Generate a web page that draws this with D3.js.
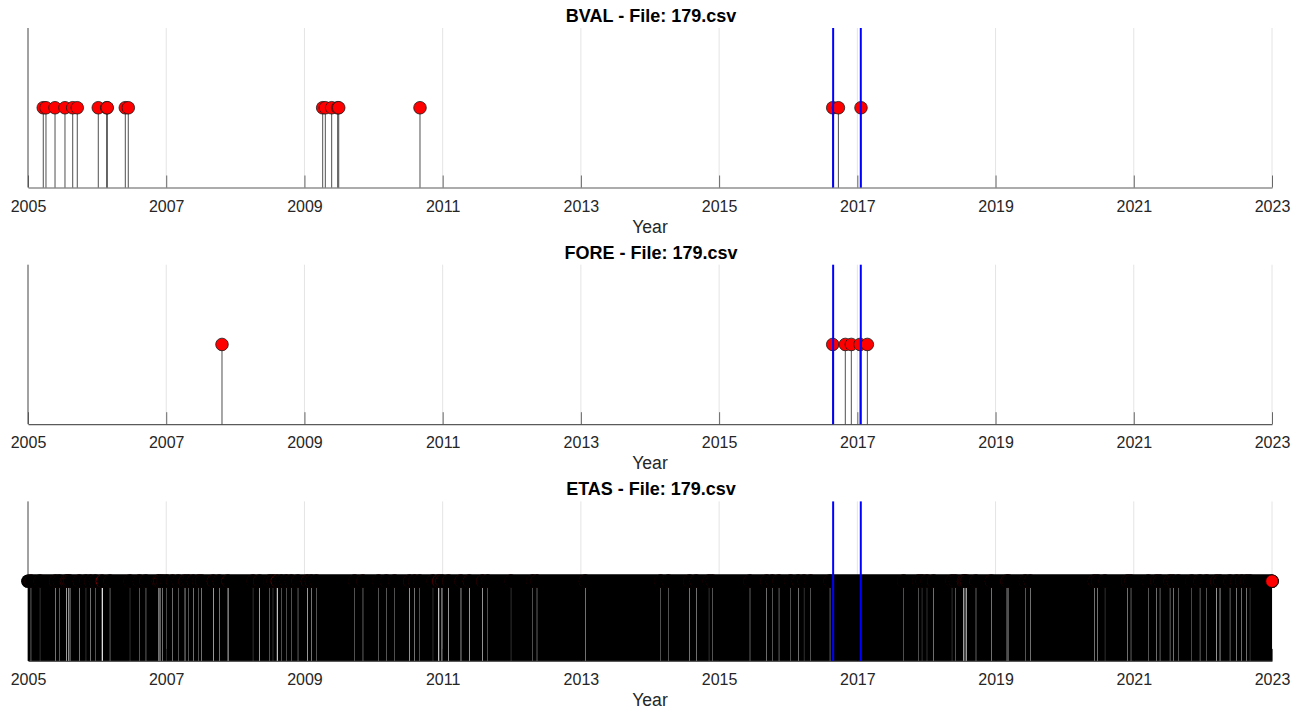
<!DOCTYPE html>
<html>
<head>
<meta charset="utf-8">
<script src="https://cdn.jsdelivr.net/npm/d3@7"></script>
<style>
  html, body { margin: 0; padding: 0; background: #fff; }
  svg { display: block; font-family: "Liberation Sans", Arial, Helvetica, sans-serif; }
</style>
</head>
<body>
<svg id="chart" width="1298" height="710"></svg>
<script>
// ---- data -------------------------------------------------------------
const yearTicks = [2005, 2007, 2009, 2011, 2013, 2015, 2017, 2019, 2021, 2023];
const fileName = "179.csv";

// Decimal-year times of the flagged anomalies (stem height = 1)
const bvalEvents = [
  2005.221, 2005.260, 2005.391, 2005.535, 2005.647, 2005.713,
  2006.017, 2006.139, 2006.147, 2006.408, 2006.451,
  2009.264, 2009.302, 2009.394, 2009.481, 2009.496,
  2010.672,
  2016.644, 2016.726, 2017.053
];
const foreEvents = [2007.807, 2016.644, 2016.826, 2016.913, 2017.039, 2017.145];

// ETAS flags are raised daily over the whole record except for these
// breaks: [centre (decimal year), length in days]
const etasStart = 2005.0;
const etasEnd = 2023.0;
const etasGaps = [
  [2005.043,2],[2005.174,1],[2005.400,2],[2005.454,1],[2005.557,3],[2005.583,3],[2005.608,3],
  [2005.743,2],[2005.839,1],[2005.907,2],[2005.974,1],[2006.075,6],[2006.187,2],[2006.476,1],
  [2006.611,1],[2006.707,2],[2006.886,2],[2006.910,4],[2006.949,2],[2007.007,1],[2007.094,2],
  [2007.175,1],[2007.272,3],[2007.320,1],[2007.392,2],[2007.470,1],[2007.513,2],[2007.682,3],
  [2007.768,2],[2007.895,4],
  [2008.256,1],[2008.352,3],[2008.497,1],[2008.545,1],[2008.607,5],[2008.665,1],[2008.737,1],
  [2008.810,1],[2008.907,2],[2009.042,3],[2009.100,2],[2009.172,1],[2009.727,1],[2009.847,2],
  [2010.074,1],[2010.185,1],[2010.306,1],[2010.523,3],[2010.595,2],[2010.668,1],[2010.860,1],
  [2010.943,5],[2010.990,4],[2011.087,3],[2011.265,3],[2011.386,3],[2011.579,3],[2011.652,1],
  [2011.989,1],[2012.303,1],[2012.365,2],[2013.064,2],
  [2014.155,1],[2014.265,1],[2014.574,2],[2014.670,2],[2014.854,1],[2014.902,1],[2015.447,2],
  [2015.689,2],[2015.770,1],[2015.867,2],[2016.036,1],[2016.146,2],[2016.229,1],[2016.325,1],
  [2016.605,2],
  [2017.671,1],[2017.888,1],[2017.936,1],[2018.008,1],[2018.105,2],[2018.370,1],[2018.418,1],
  [2018.536,3],[2018.558,3],[2018.580,3],[2018.717,2],[2018.939,2],[2019.166,3],[2019.190,1],
  [2019.431,1],[2019.503,2],
  [2020.429,2],[2020.478,2],[2020.584,1],[2020.912,2],[2020.960,2],[2021.211,1],[2021.332,2],
  [2021.380,2],[2021.525,2],[2021.572,2],[2021.645,1],[2021.839,1],[2021.959,2],[2022.055,1],
  [2022.200,3],[2022.248,3],[2022.393,2],[2022.489,2],[2022.562,2],[2022.634,2],[2022.682,1]
];

// Window of the target earthquake sequence (blue lines)
const targetWindow = [2016.65, 2017.05];

// ---- layout -------------------------------------------------------------
const svg = d3.select("#chart");
const left = 28, right = 1272;
const panelTop0 = 28, panelStep = 236.7, panelHeight = 159.5;
const markerR = 6.3;
const markerStroke = 0.8;
const textColor = "#262626";

const x = d3.scaleLinear().domain([2005, 2023]).range([left, right]);

// turn the break list into continuous alarm runs
const dayInYears = 1 / 365.25;
const etasRuns = [];
{
  let cur = etasStart;
  etasGaps.slice().sort((a, b) => a[0] - b[0]).forEach(([c, d]) => {
    const gs = c - d * dayInYears / 2, ge = c + d * dayInYears / 2;
    etasRuns.push([cur, gs]);
    cur = ge;
  });
  etasRuns.push([cur, etasEnd]);
}

const panels = [
  { label: "BVAL", events: bvalEvents },
  { label: "FORE", events: foreEvents },
  { label: "ETAS", runs: etasRuns }
];

panels.forEach((p, i) => {
  const top = panelTop0 + i * panelStep;
  const bottom = top + panelHeight;
  const y = d3.scaleLinear().domain([0, 2]).range([bottom, top]);
  const g = svg.append("g");

  // vertical grid
  g.selectAll("line.grid")
    .data(yearTicks.filter(t => t !== 2005))
    .join("line")
    .attr("x1", d => x(d)).attr("x2", d => x(d))
    .attr("y1", top).attr("y2", bottom)
    .attr("stroke", "#e4e4e4").attr("stroke-width", 1);

  // axes (drawn beneath the data)
  const xAxis = d3.axisBottom(x)
    .tickValues(yearTicks)
    .tickFormat(d3.format("d"))
    .tickSizeInner(-12)
    .tickSizeOuter(0)
    .tickPadding(0);
  const ax = g.append("g").attr("transform", `translate(0,${bottom})`).call(xAxis);
  ax.select(".domain").attr("stroke", "#5a5a5a").attr("stroke-width", 1.2);
  ax.selectAll(".tick line").attr("stroke", "#444").attr("stroke-width", 0.8);
  ax.selectAll(".tick text")
    .attr("fill", textColor)
    .attr("font-size", "16px")
    .attr("font-family", "'Liberation Sans', Arial, sans-serif")
    .attr("dy", null)
    .attr("y", 24);

  g.append("line")
    .attr("x1", left).attr("x2", left)
    .attr("y1", top).attr("y2", bottom)
    .attr("stroke", "#444").attr("stroke-width", 1);

  if (p.events) {
    // stems
    g.selectAll("line.stem")
      .data(p.events)
      .join("line")
      .attr("x1", d => x(d)).attr("x2", d => x(d))
      .attr("y1", y(0)).attr("y2", y(1))
      .attr("stroke", "#222").attr("stroke-width", 0.8);
    // markers, in time order so later ones sit on top
    g.selectAll("circle.mark")
      .data(p.events)
      .join("circle")
      .attr("cx", d => x(d)).attr("cy", y(1))
      .attr("r", markerR)
      .attr("fill", "#ff0000")
      .attr("stroke", "#1a1a1a").attr("stroke-width", markerStroke);
  } else {
    // daily stems merge into solid blocks between breaks
    g.selectAll("rect.stem")
      .data(p.runs)
      .join("rect")
      .attr("x", d => x(d[0]))
      .attr("width", d => Math.max(0.8, x(d[1]) - x(d[0])))
      .attr("y", y(1))
      .attr("height", y(0) - y(1))
      .attr("fill", "#000");
    // overlapping markers: short breaks never open the marker band,
    // each run forms a dark band and its last marker shows red
    const outerR = markerR + markerStroke / 2;
    g.append("rect")
      .attr("x", x(etasStart) - outerR)
      .attr("width", x(etasEnd) - x(etasStart) + 2 * outerR)
      .attr("y", y(1) - outerR)
      .attr("height", 2 * outerR)
      .attr("rx", outerR)
      .attr("fill", "#000");
    p.runs.forEach(r => {
      g.append("rect")
        .attr("x", x(r[0]) - outerR)
        .attr("width", x(r[1]) - x(r[0]) + 2 * outerR)
        .attr("y", y(1) - outerR)
        .attr("height", 2 * outerR)
        .attr("rx", outerR)
        .attr("fill", "#000");
      g.append("circle")
        .attr("cx", x(r[1])).attr("cy", y(1))
        .attr("r", markerR)
        .attr("fill", "#ff0000")
        .attr("stroke", "#000").attr("stroke-width", markerStroke);
    });
  }

  // target window
  g.selectAll("line.window")
    .data(targetWindow)
    .join("line")
    .attr("x1", d => x(d)).attr("x2", d => x(d))
    .attr("y1", top).attr("y2", bottom)
    .attr("stroke", "#0000ff").attr("stroke-width", 2);

  // labels
  g.append("text")
    .attr("x", (left + right) / 2)
    .attr("y", bottom + 45)
    .attr("text-anchor", "middle")
    .attr("font-size", "17.6px")
    .attr("fill", textColor)
    .text("Year");

  g.append("text")
    .attr("x", (left + right) / 2 + 1)
    .attr("y", top - 6)
    .attr("text-anchor", "middle")
    .attr("font-size", "18px")
    .attr("font-weight", "bold")
    .attr("fill", "#000")
    .text(`${p.label} - File: ${fileName}`);
});
</script>
</body>
</html>
